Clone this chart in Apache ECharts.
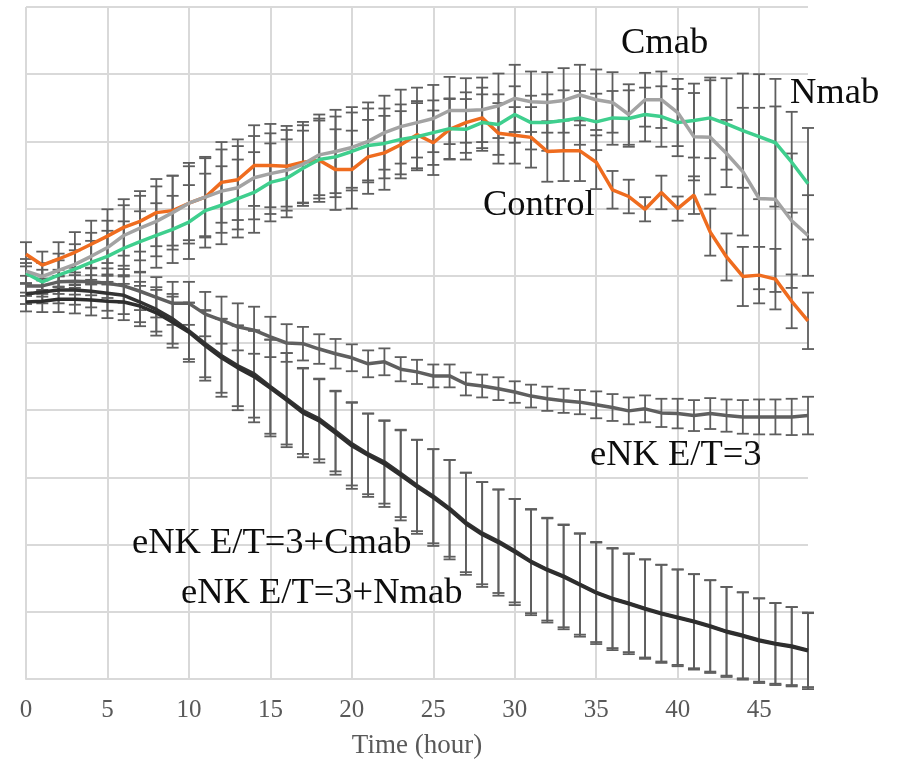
<!DOCTYPE html>
<html>
<head>
<meta charset="utf-8">
<script src="https://cdn.jsdelivr.net/npm/echarts@6/dist/echarts.min.js"></script>
<style>
  html, body { margin: 0; padding: 0; background: #fff; }
  #main { width: 903px; height: 764px; }
</style>
</head>
<body>
<div id="main"></div>
<script>
// hours 0..48
const hours = Array.from({length: 49}, (_, i) => i)
const xTicks = [0, 5, 10, 15, 20, 25, 30, 35, 40, 45]

// mean values (arbitrary units)
const control = [6.32, 6.16, 6.25, 6.35, 6.47, 6.59, 6.72, 6.81, 6.94, 6.97, 7.08, 7.17, 7.39, 7.43, 7.64, 7.64, 7.63, 7.69, 7.72, 7.58,
  7.58, 7.77, 7.83, 7.95, 8.10, 7.98, 8.18, 8.28, 8.35, 8.12, 8.09, 8.06, 7.85, 7.86, 7.86, 7.69, 7.28, 7.18, 6.99, 7.24,
  7.00, 7.20, 6.65, 6.28, 5.99, 6.01, 5.95, 5.62, 5.33]
const cmab = [6.07, 5.99, 6.08, 6.17, 6.29, 6.42, 6.60, 6.71, 6.81, 6.94, 7.08, 7.17, 7.26, 7.31, 7.46, 7.52, 7.57, 7.66, 7.80, 7.85,
  7.91, 8.00, 8.13, 8.22, 8.28, 8.34, 8.46, 8.46, 8.47, 8.53, 8.64, 8.59, 8.58, 8.61, 8.69, 8.62, 8.58, 8.40, 8.62, 8.62,
  8.43, 8.07, 8.06, 7.82, 7.55, 7.15, 7.14, 6.82, 6.60]
const nmab = [6.04, 5.91, 6.01, 6.10, 6.20, 6.29, 6.41, 6.51, 6.60, 6.69, 6.80, 6.97, 7.05, 7.15, 7.24, 7.39, 7.45, 7.60, 7.73, 7.77,
  7.85, 7.94, 7.97, 8.03, 8.07, 8.13, 8.19, 8.18, 8.28, 8.25, 8.40, 8.28, 8.28, 8.31, 8.35, 8.29, 8.35, 8.34, 8.40, 8.37,
  8.28, 8.31, 8.35, 8.26, 8.16, 8.07, 7.98, 7.69, 7.37]
const enk = [5.85, 5.85, 5.91, 5.92, 5.91, 5.89, 5.85, 5.77, 5.68, 5.59, 5.59, 5.43, 5.34, 5.24, 5.19, 5.09, 5.00, 4.99, 4.91, 4.84,
  4.78, 4.69, 4.72, 4.61, 4.57, 4.51, 4.51, 4.39, 4.36, 4.32, 4.27, 4.21, 4.17, 4.14, 4.12, 4.08, 4.04, 3.99, 4.02, 3.96,
  3.95, 3.92, 3.95, 3.92, 3.90, 3.90, 3.90, 3.90, 3.92]
const enkCmab = [5.73, 5.76, 5.79, 5.79, 5.77, 5.74, 5.71, 5.61, 5.50, 5.36, 5.18, 4.99, 4.81, 4.66, 4.54, 4.35, 4.17, 3.99, 3.87, 3.69,
  3.50, 3.35, 3.23, 3.06, 2.88, 2.72, 2.54, 2.33, 2.17, 2.05, 1.91, 1.75, 1.63, 1.53, 1.41, 1.29, 1.20, 1.13, 1.05, 0.98,
  0.92, 0.86, 0.79, 0.71, 0.65, 0.58, 0.53, 0.49, 0.43]
const enkNmab = [5.61, 5.62, 5.65, 5.65, 5.64, 5.62, 5.61, 5.55, 5.45, 5.31, 5.16, 4.96, 4.78, 4.63, 4.50, 4.33, 4.15, 3.96, 3.84, 3.66,
  3.47, 3.33, 3.20, 3.03, 2.86, 2.70, 2.52, 2.31, 2.15, 2.03, 1.89, 1.74, 1.62, 1.52, 1.40, 1.28, 1.19, 1.12, 1.04, 0.97,
  0.91, 0.85, 0.78, 0.70, 0.64, 0.57, 0.52, 0.48, 0.42]

// error bar half widths
const controlErr = [0.18, 0.2, 0.25, 0.3, 0.35, 0.4, 0.42, 0.45, 0.5, 0.52, 0.55, 0.58, 0.6, 0.6, 0.6, 0.62, 0.6, 0.6, 0.62, 0.6,
  0.58, 0.55, 0.55, 0.5, 0.5, 0.48, 0.45, 0.45, 0.45, 0.45, 0.42, 0.45, 0.45, 0.45, 0.45, 0.4, 0.28, 0.25, 0.18, 0.25,
  0.18, 0.28, 0.35, 0.35, 0.44, 0.42, 0.45, 0.4, 0.42]
const cmabErr = [0.18, 0.2, 0.25, 0.3, 0.35, 0.4, 0.45, 0.48, 0.52, 0.55, 0.6, 0.6, 0.62, 0.62, 0.62, 0.6, 0.6, 0.58, 0.6, 0.62,
  0.6, 0.58, 0.55, 0.55, 0.52, 0.5, 0.5, 0.48, 0.48, 0.48, 0.5, 0.45, 0.45, 0.48, 0.45, 0.45, 0.45, 0.45, 0.4, 0.42,
  0.5, 0.65, 0.85, 0.5, 0.95, 1.35, 1.38, 1.0, 0.6]
const nmabErr = [0.15, 0.18, 0.22, 0.28, 0.32, 0.38, 0.4, 0.45, 0.48, 0.5, 0.55, 0.55, 0.58, 0.58, 0.6, 0.58, 0.58, 0.56, 0.58, 0.6,
  0.58, 0.55, 0.52, 0.52, 0.5, 0.48, 0.45, 0.45, 0.42, 0.45, 0.42, 0.4, 0.42, 0.45, 0.4, 0.42, 0.4, 0.42, 0.4, 0.45,
  0.5, 0.55, 0.6, 0.68, 0.85, 0.93, 0.95, 0.75, 0.83]
const enkErr = [0.15, 0.16, 0.18, 0.2, 0.2, 0.22, 0.25, 0.28, 0.3, 0.32, 0.32, 0.33, 0.35, 0.35, 0.35, 0.3, 0.28, 0.25, 0.22, 0.22,
  0.2, 0.2, 0.2, 0.18, 0.18, 0.17, 0.17, 0.17, 0.17, 0.17, 0.16, 0.17, 0.18, 0.18, 0.18, 0.2, 0.2, 0.2, 0.2, 0.21,
  0.22, 0.23, 0.23, 0.24, 0.25, 0.26, 0.26, 0.27, 0.28]
const enkCmabErr = [0.15, 0.17, 0.2, 0.22, 0.24, 0.26, 0.28, 0.3, 0.33, 0.37, 0.42, 0.5, 0.55, 0.6, 0.65, 0.7, 0.68, 0.64, 0.6, 0.6,
  0.62, 0.6, 0.62, 0.65, 0.68, 0.7, 0.72, 0.74, 0.76, 0.77, 0.77, 0.77, 0.76, 0.76, 0.75, 0.74, 0.74, 0.73, 0.73, 0.72,
  0.71, 0.7, 0.68, 0.66, 0.64, 0.62, 0.6, 0.58, 0.55]
const enkNmabErr = [0.14, 0.16, 0.19, 0.21, 0.23, 0.25, 0.27, 0.3, 0.34, 0.38, 0.44, 0.52, 0.58, 0.63, 0.68, 0.72, 0.7, 0.66, 0.62, 0.62,
  0.64, 0.62, 0.64, 0.67, 0.7, 0.72, 0.74, 0.76, 0.78, 0.79, 0.79, 0.79, 0.78, 0.78, 0.77, 0.76, 0.76, 0.75, 0.74, 0.73,
  0.72, 0.71, 0.69, 0.67, 0.65, 0.63, 0.61, 0.59, 0.57]

const chart = echarts.init(document.getElementById('main'))

const pts = (vals) => vals.map((v, i) => [hours[i], v])
const errData = (vals, errs) => vals.map((v, i) => [hours[i], v - errs[i], v + errs[i]])

// error bar series: vertical line + 2 caps
const errSeries = (vals, errs) => ({
  type: 'custom',
  z: 1,
  silent: true,
  data: errData(vals, errs),
  renderItem: (params, api) => {
    const lo = api.coord([api.value(0), api.value(1)])
    const hi = api.coord([api.value(0), api.value(2)])
    const w = 6
    const st = {stroke: '#5e5e5e', lineWidth: 1.8}
    return {
      type: 'group',
      children: [
        {type: 'line', shape: {x1: lo[0], y1: lo[1], x2: hi[0], y2: hi[1]}, style: st},
        {type: 'line', shape: {x1: lo[0] - w, y1: lo[1], x2: lo[0] + w, y2: lo[1]}, style: st},
        {type: 'line', shape: {x1: hi[0] - w, y1: hi[1], x2: hi[0] + w, y2: hi[1]}, style: st}
      ]
    }
  }
})

const lineSeries = (name, vals, color, width) => ({
  name: name,
  type: 'line',
  z: 3,
  data: pts(vals),
  symbol: 'none',
  lineStyle: {color: color, width: width},
  silent: true
})

const labelFont = {fontFamily: 'Liberation Serif', fontSize: 36.5, fill: '#0d0d0d', verticalAlign: 'middle'}
const lbl = (text, x, y) => ({type: 'text', x: x, y: y, z: 10, style: Object.assign({text: text}, labelFont)})

let options = {
  animation: false,
  grid: {left: 26, right: 95, top: 7, bottom: 83, containLabel: false},
  xAxis: {
    type: 'value',
    min: 0,
    max: 48,
    interval: 5,
    name: 'Time (hour)',
    nameLocation: 'middle',
    nameGap: 53,
    nameTextStyle: {fontFamily: 'Liberation Serif', fontSize: 27, color: '#595959'},
    axisLine: {show: true, lineStyle: {color: '#d9d9d9', width: 2}},
    axisTick: {show: false},
    axisLabel: {
      fontFamily: 'Liberation Serif', fontSize: 25, color: '#595959', margin: 19,
      showMaxLabel: false,
      formatter: v => xTicks.includes(v) ? String(v) : ''
    },
    splitLine: {show: true, showMaxLine: false, lineStyle: {color: '#d9d9d9', width: 2}}
  },
  yAxis: {
    type: 'value',
    min: 0,
    max: 10,
    interval: 1,
    axisLine: {show: false},
    axisTick: {show: false},
    axisLabel: {show: false},
    splitLine: {show: true, lineStyle: {color: '#d9d9d9', width: 2}}
  },
  series: [
    errSeries(control, controlErr),
    errSeries(cmab, cmabErr),
    errSeries(nmab, nmabErr),
    errSeries(enk, enkErr),
    errSeries(enkCmab, enkCmabErr),
    errSeries(enkNmab, enkNmabErr),
    lineSeries('eNK E/T=3', enk, '#5f5f5f', 3.5),
    lineSeries('eNK E/T=3+Cmab', enkCmab, '#333333', 3.5),
    lineSeries('eNK E/T=3+Nmab', enkNmab, '#2e2e2e', 3.5),
    lineSeries('Control', control, '#ef6c1f', 3.5),
    lineSeries('Nmab', nmab, '#3fcf8e', 3.5),
    lineSeries('Cmab', cmab, '#a3a3a3', 3.5)
  ],
  graphic: [
    lbl('Cmab', 621, 43),
    lbl('Nmab', 790, 93),
    lbl('Control', 483, 205),
    lbl('eNK E/T=3', 590, 455),
    lbl('eNK E/T=3+Cmab', 132, 543),
    lbl('eNK E/T=3+Nmab', 181, 593)
  ]
}

chart.setOption(options)
</script>
</body>
</html>
